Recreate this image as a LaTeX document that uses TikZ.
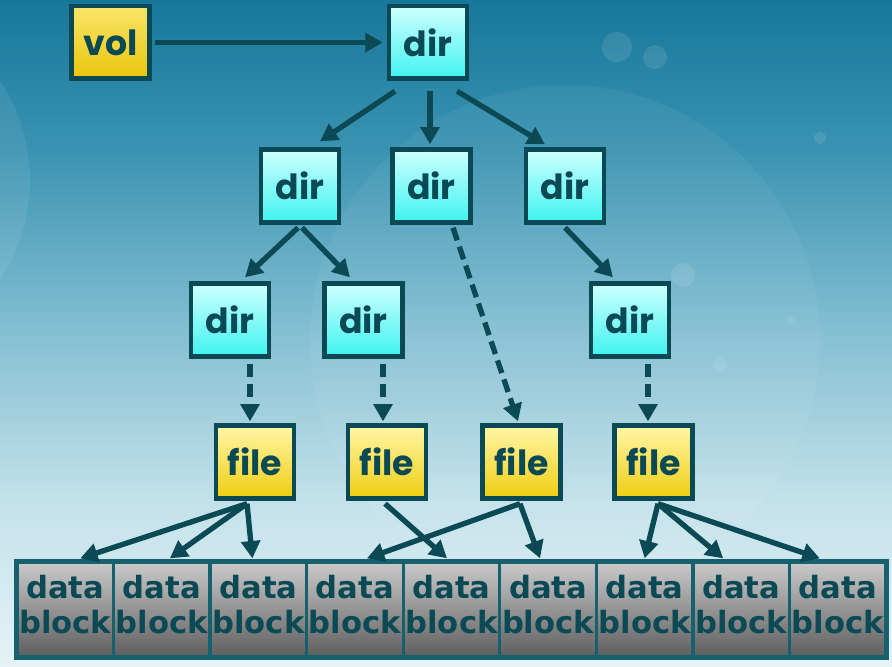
\documentclass[tikz,border=0pt]{standalone}
\usepackage{fontspec}
\newfontfamily\boxfont{Poppins}
\newfontfamily\blockfont{DejaVu Sans}
\usetikzlibrary{arrows.meta,calc}
\definecolor{ink}{HTML}{0B4A55}
\definecolor{cellline}{HTML}{17606E}
\definecolor{dirtop}{HTML}{CFFFFF}
\definecolor{dirbot}{HTML}{3EF3F0}
\definecolor{filetop}{HTML}{FFF6A8}
\definecolor{filebot}{HTML}{EFCD10}
\definecolor{voltop}{HTML}{F8E46A}
\definecolor{volbot}{HTML}{E9C60A}
\definecolor{celltop}{HTML}{CACACA}
\definecolor{cellbot}{HTML}{5E5E5E}
\definecolor{bga}{HTML}{17779A}
\definecolor{bgb}{HTML}{3A93B2}
\definecolor{bgc}{HTML}{84BFD2}
\definecolor{bgd}{HTML}{C3E1EA}
\definecolor{bge}{HTML}{E4F3F6}
\pgfdeclareverticalshading{bgsh}{100bp}{color(0bp)=(bge); color(25bp)=(bge); color(37.5bp)=(bgd); color(50.25bp)=(bgc); color(63.75bp)=(bgb); color(75bp)=(bga); color(100bp)=(bga)}
\tikzset{
  boxbase/.style={draw=ink, line width=3.5pt, minimum width=58.5pt, minimum height=54.5pt,
    inner sep=0pt, text=ink, font=\boxfont\bfseries\fontsize{26}{26}\selectfont},
  dirbox/.style={boxbase, top color=dirtop, bottom color=dirbot},
  filebox/.style={boxbase, top color=filetop, bottom color=filebot},
  volbox/.style={boxbase, top color=voltop, bottom color=volbot},
  cellbox/.style={draw=cellline, line width=2.5pt, minimum width=72.4pt, minimum height=71.25pt,
    inner sep=0pt, top color=celltop, bottom color=cellbot},
  celltext/.style={text=ink, align=center, inner sep=0pt,
    font=\blockfont\bfseries\fontsize{23}{26}\selectfont},
  arr/.style={draw=ink, line width=4pt, -{Triangle[length=13pt,width=14pt]}},
  darr/.style={arr, dash pattern=on 10pt off 5pt},
  bokeh/.style={fill=white, opacity=0.1}
}
\begin{document}
\begin{tikzpicture}[x=0.75pt,y=-0.75pt]
\useasboundingbox (0,0) rectangle (892,667);
\fill[shading=bgsh] (0,0) rectangle (892,667);
% faint decorative shapes
\begin{scope}
\clip (0,0) rectangle (892,667);
\fill[white, opacity=0.05] (565,340) circle (255);
\fill[white, opacity=0.07] (-150,180) circle (180);
\end{scope}
\fill[bokeh] (617,47) circle (15);
\fill[bokeh] (655,57) circle (12);
\fill[bokeh] (683,275) circle (12);
\fill[bokeh] (720,365) circle (7);
\fill[bokeh] (820,138) circle (6);
\fill[bokeh] (790,320) circle (4);

% nodes
\node[volbox] (vol) at (110.5,42.5) {vol};
\node[dirbox] (d0) at (428,42.5) {dir};
\node[dirbox] (d1) at (300,186) {dir};
\node[dirbox] (d2) at (431.5,186) {dir};
\node[dirbox] (d3) at (565,186) {dir};
\node[dirbox] (d4) at (230,320) {dir};
\node[dirbox] (d5) at (363.5,320) {dir};
\node[dirbox] (d6) at (630,320) {dir};
\node[filebox] (f1) at (255,462) {file};
\node[filebox] (f2) at (387,462) {file};
\node[filebox] (f3) at (521.5,462) {file};
\node[filebox] (f4) at (653.5,462) {file};

% data blocks
\foreach \i in {1,...,9}{
  \node[cellbox] (c\i) at ({17+48.28+96.56*(\i-1)},609.5) {};
}
\foreach \i in {1,...,9}{
  \begin{scope}
    \clip ($(c\i.south west)+(2,-2)$) rectangle ($(c\i.north east)+(-2,2)$);
    \node[celltext] at ($(c\i)+(0,-5)$) {data\\block};
  \end{scope}
}
\draw[cellline, line width=2.5pt] (c1.north west) rectangle (c9.south east);

% connectors
\draw[arr, shorten <=2pt, shorten >=3pt] (vol.east) -- (d0.west);
\draw[arr] ($(d0.south)+(-33,10)$) -- ($(d1.north)+(20,-6)$);
\draw[arr] ($(d0.south)+(2,10)$) -- ($(d2.north)+(-1.5,-3)$);
\draw[arr] ($(d0.south)+(29,10)$) -- ($(d3.north)+(-20,-3)$);
\draw[arr] ($(d1.south)+(-2,3)$) -- ($(d4.north)+(15,-4)$);
\draw[arr] ($(d1.south)+(2,3)$) -- ($(d5.north)+(-13.5,-4)$);
\draw[arr] ($(d3.south)+(0,3)$) -- ($(d6.north)+(-17,-4)$);
\draw[darr] ($(d2.south)+(21.5,3)$) -- ($(f3.north)+(-3.5,-2)$);
\draw[darr] ($(d4.south)+(20,5)$) -- ($(f1.north)+(-5,-2)$);
\draw[darr] ($(d5.south)+(19.5,5)$) -- ($(f2.north)+(-4,-2)$);
\draw[darr] ($(d6.south)+(18,5)$) -- ($(f4.north)+(-5.5,-2)$);

\draw[arr] ($(f1.south)+(-8,3)$) -- ($(c1.north)+(15,-2)$);
\draw[arr] ($(f1.south)+(-8,3)$) -- ($(c2.north)+(8,-2)$);
\draw[arr] ($(f1.south)+(-8,3)$) -- ($(c3.north)+(-6,-2)$);
\draw[arr] ($(f2.south)+(-2,3)$) -- ($(c5.north)+(-4.5,-2)$);
\draw[arr] ($(f3.south)+(-1.5,3)$) -- ($(c4.north)+(12,-2)$);
\draw[arr] ($(f3.south)+(-1.5,3)$) -- ($(c6.north)+(-8,-2)$);
\draw[arr] ($(f4.south)+(4.5,3)$) -- ($(c7.north)+(0,-2)$);
\draw[arr] ($(f4.south)+(4.5,3)$) -- ($(c8.north)+(-18,-2)$);
\draw[arr] ($(f4.south)+(4.5,3)$) -- ($(c9.north)+(-18,-2)$);
\end{tikzpicture}
\end{document}
